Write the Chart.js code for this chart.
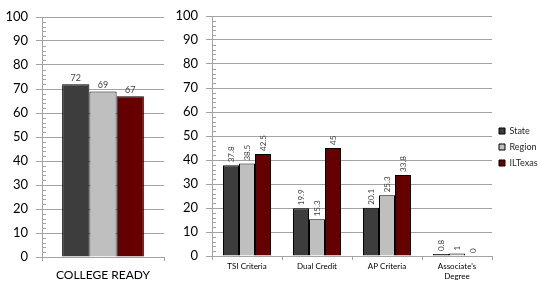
<!DOCTYPE html>
<html>
<head>
<meta charset="utf-8">
<script src="https://cdn.jsdelivr.net/npm/chart.js@4.4.1/dist/chart.umd.min.js"></script>
<style>
  html, body { margin: 0; padding: 0; background: #fff; }
  #wrap { position: relative; width: 541px; height: 284px; }
  #ready { position: absolute; left: 0; top: 0; }
  #paths { position: absolute; left: 170px; top: 0; }
</style>
</head>
<body>
<div id="wrap">
  <canvas id="ready" width="170" height="284"></canvas>
  <canvas id="paths" width="371" height="284"></canvas>
</div>
<script>
// data
const seriesNames = ['State', 'Region', 'ILTexas'];

const readyLabels = ['COLLEGE READY'];
const readyState = [72];
const readyRegion = [69];
const readyILTexas = [67];

const pathLabels = ['TSI Criteria', 'Dual Credit', 'AP Criteria', ["Associate's", 'Degree']];
const pathState = [37.8, 19.9, 20.1, 0.8];
const pathRegion = [38.5, 15.3, 25.3, 1];
const pathILTexas = [42.5, 45, 33.8, 0];

const yMin = 0, yMax = 100, yStep = 10, minorStep = 2;

const colors = ['#3d3d3d', '#bfbfbf', '#660000'];
const gridColor = '#a3a3a3';
const font = 'Lato';

// value labels above the bars
const valueLabels = {
  id: 'valueLabels',
  afterDatasetsDraw(chart, args, opts) {
    const ctx = chart.ctx;
    ctx.save();
    ctx.font = opts.size + 'px ' + font;
    ctx.fillStyle = '#404040';
    chart.data.datasets.forEach((ds, i) => {
      chart.getDatasetMeta(i).data.forEach((bar, j) => {
        const txt = String(ds.data[j]);
        if (opts.rotate) {
          ctx.save();
          ctx.translate(bar.x, bar.y - 3);
          ctx.rotate(-Math.PI / 2);
          ctx.textAlign = 'left';
          ctx.textBaseline = 'middle';
          ctx.fillText(txt, 0, 0);
          ctx.restore();
        } else {
          ctx.textAlign = 'center';
          ctx.textBaseline = 'bottom';
          ctx.fillText(txt, bar.x, bar.y - 2);
        }
      });
    });
    ctx.restore();
  }
};

// excel style minor ticks inside the y axis (+ nudge the legend up a bit)
const minorTicks = {
  id: 'minorTicks',
  afterLayout(chart) {
    if (chart.legend && chart.legend.options.display) {
      chart.legend.top -= 3;
      chart.legend.bottom -= 3;
    }
  },
  afterDraw(chart) {
    const y = chart.scales.y;
    const ctx = chart.ctx;
    ctx.save();
    ctx.strokeStyle = gridColor;
    ctx.lineWidth = 1;
    ctx.beginPath();
    for (let v = yMin; v <= yMax; v += minorStep) {
      if (v % yStep === 0) continue;
      const py = Math.round(y.getPixelForValue(v)) + 0.5;
      ctx.moveTo(y.right, py);
      ctx.lineTo(y.right + 4, py);
    }
    ctx.stroke();
    ctx.restore();
  }
};

function makeSets(a, b, c) {
  return [a, b, c].map((d, i) => ({
    label: seriesNames[i],
    data: d,
    backgroundColor: colors[i],
    borderColor: '#000',
    borderWidth: 1,
    borderSkipped: 'bottom',
    barPercentage: 1
  }));
}

function yAxis() {
  return {
    min: yMin,
    max: yMax,
    ticks: { stepSize: yStep, color: '#000', font: { family: font, size: 13 }, padding: 8 },
    grid: { color: gridColor, tickLength: 6 },
    border: { color: gridColor },
    afterFit: s => { s.width = 36; }
  };
}

function xAxis(size, pad, h) {
  return {
    ticks: { color: '#000', font: { family: font, size: size }, padding: pad, maxRotation: 0, autoSkip: false },
    grid: { offset: true, drawOnChartArea: false, tickLength: 4, color: gridColor },
    border: { color: gridColor },
    afterFit: s => { s.height = h; }
  };
}

// College ready chart
let readyCtx = document.getElementById('ready').getContext('2d');
let readyChart = new Chart(readyCtx, {
  type: 'bar',
  data: {
    labels: readyLabels,
    datasets: makeSets(readyState, readyRegion, readyILTexas).map(d => Object.assign(d, { categoryPercentage: 0.67 }))
  },
  options: {
    responsive: false,
    animation: false,
    layout: { padding: { top: 17, left: 6, right: 6, bottom: 0 } },
    plugins: {
      legend: { display: false },
      tooltip: { enabled: false },
      valueLabels: { size: 9, rotate: false }
    },
    scales: { x: xAxis(12, 7, 27), y: yAxis() }
  },
  plugins: [valueLabels, minorTicks]
});

// Pathways chart
let pathCtx = document.getElementById('paths').getContext('2d');
let pathChart = new Chart(pathCtx, {
  type: 'bar',
  data: {
    labels: pathLabels,
    datasets: makeSets(pathState, pathRegion, pathILTexas).map(d => Object.assign(d, { categoryPercentage: 0.686 }))
  },
  options: {
    responsive: false,
    animation: false,
    layout: { padding: { top: 16, left: 6, right: 0, bottom: 0 } },
    plugins: {
      legend: {
        position: 'right',
        maxWidth: 49,
        labels: { font: { family: font, size: 9 }, color: '#262626', boxWidth: 6, boxHeight: 6, padding: 7 }
      },
      tooltip: { enabled: false },
      valueLabels: { size: 8, rotate: true }
    },
    scales: { x: xAxis(8, 2, 28), y: yAxis() }
  },
  plugins: [valueLabels, minorTicks]
});
</script>
</body>
</html>
